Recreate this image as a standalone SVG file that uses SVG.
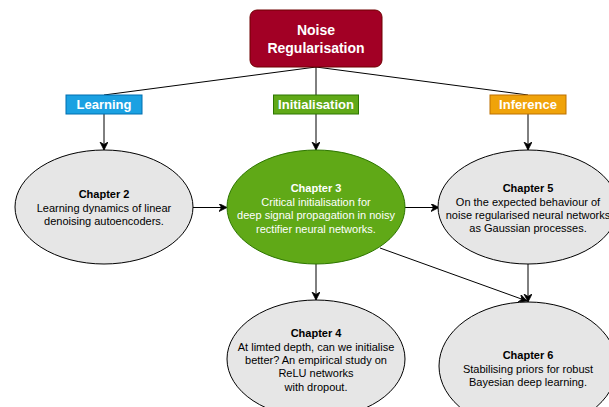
<svg xmlns="http://www.w3.org/2000/svg" width="609" height="407" viewBox="0 0 609 407">
<defs>
<style>
text{font-family:"Liberation Sans",Arial,Helvetica,sans-serif;text-anchor:middle}
.t14{font-size:14px;font-weight:bold;fill:#fff}
.lbl{font-size:13px;font-weight:bold;fill:#fff}
.ch{font-size:11px;fill:#000}
.chw{font-size:11px;fill:#fff}
.b{font-weight:bold}
.grey{fill:#e6e6e6;stroke:#000;stroke-width:1}
.edge{fill:none;stroke:#000;stroke-width:1}
</style>
<marker id="arr" markerWidth="10" markerHeight="10" refX="8" refY="4" orient="auto" markerUnits="userSpaceOnUse">
<path d="M0,0 L8,4 L0,8 L2.5,4 z" fill="#000" stroke="#000" stroke-width="0.8"/>
</marker>
</defs>
<g id="connectors">
<path class="edge" d="M316,67 L104,95"/>
<path class="edge" d="M316,67 L316,95"/>
<path class="edge" d="M316,67 L528,95"/>
<path class="edge" d="M104,114 L104,150" marker-end="url(#arr)"/>
<path class="edge" d="M316,114 L316,150" marker-end="url(#arr)"/>
<path class="edge" d="M528,114 L528,150" marker-end="url(#arr)"/>
<path class="edge" d="M193,207.5 L227,207.5" marker-end="url(#arr)"/>
<path class="edge" d="M405,207.5 L439,207.5" marker-end="url(#arr)"/>
<path class="edge" d="M316,264 L316,300" marker-end="url(#arr)"/>
<path class="edge" d="M528,264 L528,302" marker-end="url(#arr)"/>
<path class="edge" d="M380,248 L527,301" marker-end="url(#arr)"/>
</g>
<g id="noise">
<rect x="250" y="10" width="132" height="57" rx="7" ry="7" fill="#a20025" stroke="#6f0000"/>
<text class="t14" x="316" y="35">Noise</text>
<text class="t14" x="316" y="53">Regularisation</text>
</g>
<g id="learning">
<rect x="66" y="95" width="76" height="19" fill="#1ba1e2" stroke="#006eaf"/>
<text class="lbl" x="104" y="109">Learning</text>
</g>
<g id="initialisation">
<rect x="273.5" y="95" width="85" height="19" fill="#60a917" stroke="#2d7600"/>
<text class="lbl" x="316" y="109">Initialisation</text>
</g>
<g id="inference">
<rect x="490" y="95" width="76" height="19" fill="#f0a30a" stroke="#bd7000"/>
<text class="lbl" x="528" y="109">Inference</text>
</g>
<g id="chapter2">
<ellipse class="grey" cx="104" cy="207" rx="89" ry="57"/>
<text class="ch" x="104" y="198"><tspan class="b">Chapter 2</tspan></text>
<text class="ch" x="104" y="212">Learning dynamics of linear</text>
<text class="ch" x="104" y="225">denoising autoencoders.</text>
</g>
<g id="chapter3">
<ellipse cx="316" cy="207" rx="89" ry="57" fill="#60a917" stroke="#2d7600"/>
<text class="chw" x="316" y="192"><tspan class="b">Chapter 3</tspan></text>
<text class="chw" x="316" y="206">Critical initialisation for</text>
<text class="chw" x="316" y="219">deep signal propagation in noisy</text>
<text class="chw" x="316" y="233">rectifier neural networks.</text>
</g>
<g id="chapter5">
<ellipse class="grey" cx="528" cy="207" rx="90" ry="57"/>
<text class="ch" x="528" y="192"><tspan class="b">Chapter 5</tspan></text>
<text class="ch" x="528" y="206">On the expected behaviour of</text>
<text class="ch" x="528" y="219">noise regularised neural networks</text>
<text class="ch" x="528" y="232">as Gaussian processes.</text>
</g>
<g id="chapter4">
<ellipse class="grey" cx="316" cy="359" rx="89" ry="59"/>
<text class="ch" x="316" y="337"><tspan class="b">Chapter 4</tspan></text>
<text class="ch" x="316" y="351">At limted depth, can we initialise</text>
<text class="ch" x="316" y="364">better? An empirical study on</text>
<text class="ch" x="316" y="377">ReLU networks</text>
<text class="ch" x="316" y="391">with dropout.</text>
</g>
<g id="chapter6">
<ellipse class="grey" cx="528" cy="366" rx="89" ry="64"/>
<text class="ch" x="528" y="359"><tspan class="b">Chapter 6</tspan></text>
<text class="ch" x="528" y="373">Stabilising priors for robust</text>
<text class="ch" x="528" y="386">Bayesian deep learning.</text>
</g>
</svg>
